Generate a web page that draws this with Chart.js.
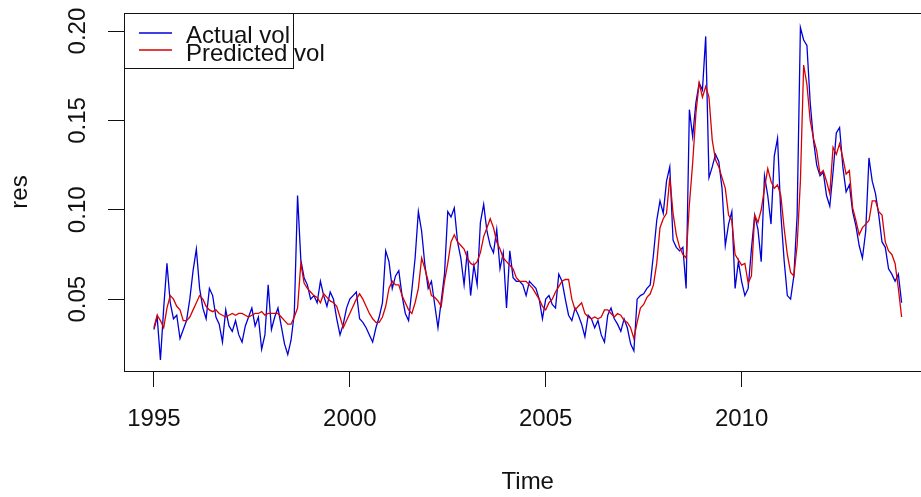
<!DOCTYPE html>
<html>
<head>
<meta charset="utf-8">
<script src="https://cdn.jsdelivr.net/npm/chart.js@4.4.1/dist/chart.umd.min.js"></script>
<style>
  html, body { margin: 0; padding: 0; background: #fff; overflow: hidden; }
  #wrap { width: 960px; height: 497px; }
</style>
</head>
<body>
<div id="wrap"><canvas id="myChart" width="960" height="497"></canvas></div>
<script>
// monthly series, starting Jan 1995
const startYear = 1995;
const freq = 12;

const actualVol = [
  0.033, 0.040, 0.016, 0.045, 0.070, 0.048, 0.039, 0.041, 0.028, 0.033, 0.038, 0.050,
  0.066, 0.078, 0.056, 0.045, 0.039, 0.056, 0.052, 0.040, 0.036, 0.026, 0.044, 0.035,
  0.032, 0.038, 0.030, 0.026, 0.035, 0.040, 0.045, 0.035, 0.040, 0.022, 0.030, 0.058,
  0.033, 0.040, 0.045, 0.035, 0.025, 0.019, 0.027, 0.042, 0.108, 0.072, 0.062, 0.058,
  0.050, 0.052, 0.048, 0.060, 0.052, 0.046, 0.054, 0.050, 0.039, 0.030, 0.036, 0.045,
  0.050, 0.052, 0.054, 0.039, 0.037, 0.034, 0.030, 0.026, 0.034, 0.040, 0.048, 0.077,
  0.071, 0.056, 0.063, 0.066, 0.052, 0.042, 0.038, 0.055, 0.073, 0.099, 0.088, 0.069,
  0.056, 0.060, 0.047, 0.034, 0.049, 0.064, 0.099, 0.096, 0.101, 0.082, 0.073, 0.058,
  0.077, 0.052, 0.069, 0.058, 0.093, 0.103, 0.088, 0.080, 0.076, 0.089, 0.067, 0.076,
  0.045, 0.077, 0.062, 0.060, 0.060, 0.058, 0.052, 0.060, 0.058, 0.056, 0.050, 0.039,
  0.050, 0.052, 0.047, 0.045, 0.064, 0.060, 0.050, 0.041, 0.038, 0.045, 0.041, 0.036,
  0.029, 0.041, 0.039, 0.034, 0.038, 0.030, 0.026, 0.041, 0.045, 0.039, 0.036, 0.032,
  0.039, 0.034, 0.025, 0.021, 0.050, 0.052, 0.053, 0.056, 0.058, 0.075, 0.094, 0.105,
  0.098, 0.116, 0.124, 0.083, 0.079, 0.077, 0.079, 0.056, 0.156, 0.141, 0.160, 0.171,
  0.167, 0.197, 0.118, 0.124, 0.131, 0.127, 0.112, 0.080, 0.092, 0.099, 0.056, 0.071,
  0.060, 0.052, 0.056, 0.078, 0.097, 0.089, 0.071, 0.119, 0.108, 0.092, 0.130, 0.140,
  0.098, 0.072, 0.052, 0.050, 0.063, 0.097, 0.202, 0.195, 0.192, 0.160, 0.139, 0.125,
  0.119, 0.121, 0.108, 0.102, 0.121, 0.143, 0.146, 0.124, 0.110, 0.114, 0.099, 0.091,
  0.080, 0.073, 0.088, 0.129, 0.116, 0.109, 0.097, 0.082, 0.079, 0.067, 0.064, 0.060,
  0.064, 0.048
];

const predictedVol = [
  0.034, 0.041, 0.038, 0.034, 0.045, 0.052, 0.050, 0.046, 0.044, 0.038, 0.038, 0.040,
  0.044, 0.048, 0.052, 0.050, 0.046, 0.044, 0.043, 0.044, 0.042, 0.041, 0.040, 0.041,
  0.042, 0.041, 0.042, 0.042, 0.041, 0.040, 0.041, 0.042, 0.042, 0.043, 0.041, 0.042,
  0.042, 0.042, 0.042, 0.040, 0.038, 0.036, 0.036, 0.040, 0.045, 0.070, 0.059, 0.056,
  0.054, 0.052, 0.051, 0.048, 0.053, 0.051, 0.049, 0.048, 0.046, 0.040, 0.034, 0.038,
  0.042, 0.046, 0.050, 0.053, 0.050, 0.046, 0.042, 0.039, 0.037, 0.037, 0.040, 0.046,
  0.056, 0.060, 0.058, 0.058, 0.052, 0.048, 0.044, 0.042, 0.048, 0.056, 0.073, 0.067,
  0.060, 0.052, 0.051, 0.049, 0.046, 0.060, 0.070, 0.082, 0.086, 0.082, 0.080, 0.078,
  0.073, 0.070, 0.069, 0.071, 0.076, 0.085, 0.090, 0.095, 0.090, 0.082, 0.078, 0.073,
  0.071, 0.069, 0.067, 0.062, 0.060, 0.060, 0.060, 0.058, 0.056, 0.053, 0.050, 0.046,
  0.044, 0.048, 0.050, 0.054, 0.057, 0.060, 0.061, 0.061, 0.050, 0.044, 0.046, 0.048,
  0.042, 0.040, 0.039, 0.040, 0.039, 0.040, 0.044, 0.044, 0.042, 0.040, 0.042, 0.041,
  0.038, 0.037, 0.034, 0.028, 0.037, 0.045, 0.047, 0.051, 0.053, 0.058, 0.070, 0.090,
  0.095, 0.098, 0.118, 0.098, 0.086, 0.079, 0.075, 0.073, 0.103, 0.126, 0.154, 0.171,
  0.163, 0.169, 0.163, 0.139, 0.128, 0.124, 0.118, 0.112, 0.097, 0.094, 0.075, 0.072,
  0.069, 0.070, 0.059, 0.063, 0.097, 0.093, 0.100, 0.112, 0.123, 0.116, 0.112, 0.114,
  0.108, 0.090, 0.075, 0.065, 0.063, 0.080, 0.116, 0.181, 0.170, 0.150, 0.140, 0.133,
  0.120, 0.122, 0.116, 0.109, 0.135, 0.131, 0.137, 0.129, 0.120, 0.122, 0.101, 0.094,
  0.086, 0.090, 0.092, 0.094, 0.105, 0.105, 0.099, 0.097, 0.082, 0.077, 0.075, 0.070,
  0.056, 0.040
];

const xTicks = [1995, 2000, 2005, 2010];
const yTicks = [0.05, 0.10, 0.15, 0.20];
const yTickLabels = ['0.05', '0.10', '0.15', '0.20'];

const FONT = "'Liberation Sans', Arial, sans-serif";
const INK = '#111';

const toPoints = arr => arr.map((v, i) => ({x: startYear + i / freq, y: v}));

// R style frame around the plot region, rotated y labels and legend
const frame = {
    id: 'frame',
    afterDraw: chart => {
        const ctx = chart.ctx;
        const a = chart.chartArea;
        ctx.save();
        ctx.strokeStyle = INK;
        ctx.lineWidth = 1;
        ctx.strokeRect(a.left + 0.5, a.top + 0.5, a.right - a.left, a.bottom - a.top);

        const ys = chart.scales.y;
        ctx.fillStyle = INK;
        ctx.font = '24px ' + FONT;
        ctx.textAlign = 'center';
        ctx.textBaseline = 'middle';
        yTicks.forEach((v, i) => {
            ctx.save();
            ctx.translate(78, ys.getPixelForValue(v));
            ctx.rotate(-Math.PI / 2);
            ctx.fillText(yTickLabels[i], 0, 0);
            ctx.restore();
        });

        const lx = a.left, ly = a.top;
        ctx.strokeRect(lx + 0.5, ly + 0.5, 169, 55);
        ctx.textAlign = 'left';
        ctx.textBaseline = 'alphabetic';
        const rows = [{yl: 20, yt: 30}, {yl: 37, yt: 48}];
        chart.data.datasets.forEach((ds, i) => {
            const r = rows[i];
            ctx.strokeStyle = ds.borderColor;
            ctx.lineWidth = 1.3;
            ctx.beginPath();
            ctx.moveTo(lx + 15, ly + r.yl);
            ctx.lineTo(lx + 48, ly + r.yl);
            ctx.stroke();
            ctx.fillStyle = INK;
            ctx.fillText(ds.label, lx + 62, ly + r.yt);
        });
        ctx.restore();
    }
};

const data = {
    datasets: [{
        label: 'Actual vol',
        data: toPoints(actualVol),
        borderColor: '#0000d8',
        borderWidth: 1.3,
        order: 2
    },
    {
        label: 'Predicted vol',
        data: toPoints(predictedVol),
        borderColor: '#d80000',
        borderWidth: 1.3,
        order: 1
    }]
};

const config = {
    type: 'line',
    data: data,
    options: {
        responsive: false,
        animation: false,
        devicePixelRatio: 1,
        layout: { padding: { left: 0, right: 28.5, top: 13, bottom: 0 } },
        elements: { point: { radius: 0 }, line: { tension: 0 } },
        scales: {
            x: {
                type: 'linear',
                min: 1994.237,
                max: 2014.846,
                afterBuildTicks: scale => { scale.ticks = xTicks.map(v => ({value: v})); },
                afterFit: scale => { scale.height = 126; },
                grid: { drawOnChartArea: false, drawTicks: true, tickLength: 16, color: INK },
                border: { display: false },
                ticks: {
                    padding: 18,
                    color: INK,
                    maxRotation: 0,
                    font: { family: FONT, size: 24 },
                    callback: v => String(v)
                },
                title: {
                    display: true,
                    text: 'Time',
                    color: INK,
                    font: { family: FONT, size: 24 },
                    padding: { top: 0, bottom: 0 }
                }
            },
            y: {
                min: 0.0098,
                max: 0.2101,
                afterBuildTicks: scale => { scale.ticks = yTicks.map(v => ({value: v})); },
                afterFit: scale => { scale.width = 124; },
                grid: { drawOnChartArea: false, drawTicks: true, tickLength: 16, color: INK },
                border: { display: false },
                ticks: { display: false },
                title: {
                    display: true,
                    text: 'res',
                    color: INK,
                    font: { family: FONT, size: 24 },
                    padding: { top: 6, bottom: 0 }
                }
            }
        },
        plugins: {
            legend: { display: false },
            tooltip: { enabled: false }
        }
    },
    plugins: [frame]
};

const myChart = new Chart(document.getElementById('myChart').getContext('2d'), config);
</script>
</body>
</html>
